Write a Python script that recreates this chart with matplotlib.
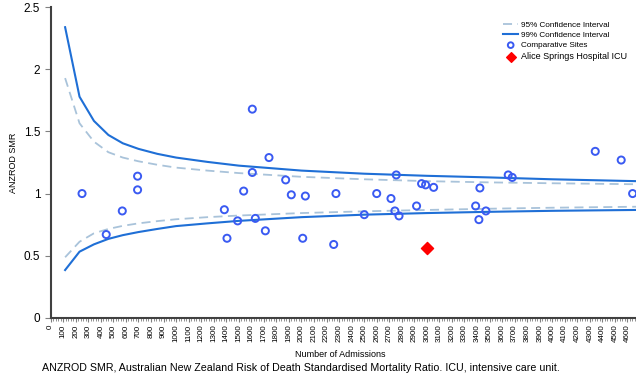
import matplotlib
matplotlib.use('Agg')
import matplotlib.pyplot as plt
from matplotlib.ticker import MultipleLocator

plt.rcParams['font.family'] = ['Liberation Sans', 'DejaVu Sans']

# comparative sites: admissions vs SMR
site_n = [250, 443, 571, 693, 693, 1385, 1406, 1491, 1539, 1608, 1608, 1632, 1712,
          1741, 1874, 1919, 2010, 2031, 2257, 2275, 2501, 2600, 2714, 2745, 2756,
          2778, 2918, 2958, 2990, 3054, 3389, 3415, 3423, 3471, 3649, 3681, 4343,
          4550, 4641]
site_smr = [1.00, 0.67, 0.86, 1.14, 1.03, 0.87, 0.64, 0.78, 1.02, 1.68, 1.17, 0.80, 0.70,
            1.29, 1.11, 0.99, 0.64, 0.98, 0.59, 1.00, 0.83, 1.00, 0.96, 0.86, 1.15,
            0.82, 0.90, 1.08, 1.07, 1.05, 0.90, 0.79, 1.045, 0.86, 1.15, 1.13, 1.34,
            1.27, 1.00]

alice_n = [3000]
alice_smr = [0.56]

# confidence limits read along the funnel
ci_n = [115, 230, 345, 460, 575, 700, 850, 1000, 1250, 1500, 2000, 2500, 3000, 3500, 4000, 4670]
upper99 = [2.34, 1.78, 1.585, 1.472, 1.405, 1.36, 1.32, 1.29, 1.255, 1.225, 1.185, 1.16, 1.143, 1.13, 1.115, 1.10]
lower99 = [0.384, 0.532, 0.591, 0.635, 0.665, 0.69, 0.715, 0.738, 0.76, 0.78, 0.81, 0.83, 0.843, 0.853, 0.861, 0.868]
upper95 = [1.93, 1.566, 1.418, 1.333, 1.29, 1.26, 1.232, 1.209, 1.185, 1.165, 1.135, 1.115, 1.10, 1.09, 1.083, 1.075]
lower95 = [0.487, 0.612, 0.68, 0.715, 0.74, 0.76, 0.778, 0.793, 0.81, 0.823, 0.843, 0.857, 0.868, 0.878, 0.886, 0.894]

fig = plt.figure(figsize=(6.36, 3.76), dpi=100)
ax = fig.add_axes([0.0797, 0.155, 0.9203, 0.8255])

c95 = '#a9c3da'
c99 = '#1f6fd6'
ax.plot(ci_n, upper95, color=c95, lw=1.3, ls=(0, (5, 3)), label='95% Confidence Interval')
ax.plot(ci_n, lower95, color=c95, lw=1.3, ls=(0, (5, 3)))
ax.plot(ci_n, upper99, color=c99, lw=1.5, label='99% Confidence Interval')
ax.plot(ci_n, lower99, color=c99, lw=1.5)
ax.scatter(site_n, site_smr, s=26, facecolors='none', edgecolors='#3a5af2',
           linewidths=1.4, label='Comparative Sites', zorder=3)
ax.scatter(alice_n, alice_smr, s=38, marker='D', color='#ff0000',
           label='Alice Springs Hospital ICU', zorder=4)

ax.set_xlim(0, 4668)
ax.set_ylim(0, 2.5)
ax.xaxis.set_major_locator(MultipleLocator(100))
ax.xaxis.set_minor_locator(MultipleLocator(20))
ax.set_yticks([0, 0.5, 1, 1.5, 2, 2.5])
ax.set_yticklabels(['0', '0.5', '1', '1.5', '2', '2.5'])
ax.tick_params(axis='x', which='major', labelsize=5.8, rotation=90, length=3, color='#808080', pad=2)
ax.tick_params(axis='x', which='minor', length=2, color='#808080')
ax.tick_params(axis='y', labelsize=8.5, length=4, color='#808080')

for s in ['top', 'right']:
    ax.spines[s].set_visible(False)
for s in ['left', 'bottom']:
    ax.spines[s].set_color('#404040')
    ax.spines[s].set_linewidth(1.5)

fig.text(0.022, 0.566, 'ANZROD SMR', fontsize=6.5, rotation=90, ha='center', va='center')
fig.text(0.535, 0.050, 'Number of Admissions', fontsize=6.5, ha='center')
fig.text(0.066, 0.013, 'ANZROD SMR, Australian New Zealand Risk of Death Standardised '
         'Mortality Ratio. ICU, intensive care unit.', fontsize=7.7)

leg = ax.legend(loc='upper left', bbox_to_anchor=(0.767, 0.966), frameon=False,
                fontsize=5.9, handlelength=1.9, labelspacing=0.3, handletextpad=0.35,
                borderaxespad=0.0, markerscale=0.8)
leg.get_texts()[3].set_fontsize(6.5)

fig.savefig('out.png', dpi=100)
